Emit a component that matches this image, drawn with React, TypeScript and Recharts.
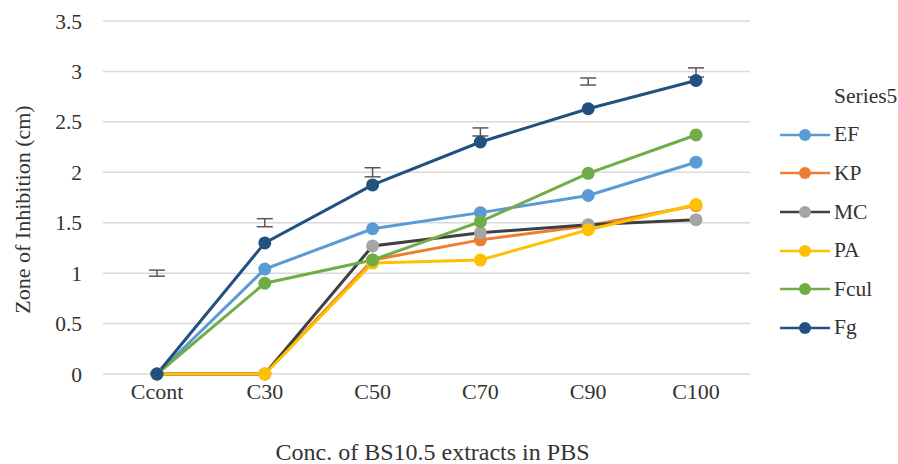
import React from "react";
import { LineChart, Line, XAxis, YAxis, CartesianGrid, ErrorBar } from "recharts";

const categories = ["Ccont", "C30", "C50", "C70", "C90", "C100"];
const ef = [0, 1.04, 1.44, 1.6, 1.77, 2.1];
const kp = [0, 0, 1.13, 1.33, 1.47, 1.67];
const mc = [0, 0, 1.27, 1.4, 1.48, 1.53];
const pa = [0, 0, 1.1, 1.13, 1.43, 1.68];
const fcul = [0, 0.9, 1.13, 1.51, 1.99, 2.37];
const fg = [0, 1.3, 1.875, 2.3, 2.63, 2.91];
// "Series5" only carries the error bars
const series5 = [1.0, 1.5, 2.0, 2.4, 2.9, 2.99];
const series5Err = [0.03, 0.04, 0.045, 0.04, 0.035, 0.045];
const yTicks = [0, 0.5, 1, 1.5, 2, 2.5, 3, 3.5];

const series = [
  { key: "EF", values: ef, line: "#5B9BD5", dot: "#5B9BD5" },
  { key: "KP", values: kp, line: "#ED7D31", dot: "#ED7D31" },
  { key: "MC", values: mc, line: "#404040", dot: "#A5A5A5" },
  { key: "PA", values: pa, line: "#FFC000", dot: "#FFC000" },
  { key: "Fcul", values: fcul, line: "#70AD47", dot: "#70AD47" },
  { key: "Fg", values: fg, line: "#21517F", dot: "#21517F" },
];

const data = categories.map((c, i) => {
  const row: Record<string, string | number> = { cat: c, s5: series5[i], s5err: series5Err[i] };
  series.forEach((s) => (row[s.key] = s.values[i]));
  return row;
});

const font = "'Liberation Serif', 'Times New Roman', serif";
const textColor = "#333333";

function YLabel({ viewBox }: any) {
  const cx = 22;
  const cy = viewBox.y + viewBox.height / 2 + 12;
  return (
    <text
      x={cx}
      y={cy}
      transform={`rotate(-90 ${cx} ${cy})`}
      textAnchor="middle"
      dominantBaseline="central"
      fill={textColor}
      fontSize={22}
      fontFamily={font}
    >
      Zone of Inhibition (cm)
    </text>
  );
}

function LegendBox() {
  return (
    <div
      style={{
        position: "absolute",
        left: 780,
        top: 77,
        width: 118,
        fontFamily: font,
        fontSize: 21.5,
        color: textColor,
      }}
    >
      <div style={{ height: 38.6, lineHeight: "38.6px", paddingLeft: 54 }}>Series5</div>
      {series.map((s) => (
        <div key={s.key} style={{ height: 38.6, display: "flex", alignItems: "center" }}>
          <svg width={52} height={16} style={{ marginRight: 2 }}>
            <line x1={0} y1={8} x2={50} y2={8} stroke={s.line} strokeWidth={2.5} />
            <circle cx={25} cy={8} r={6} fill={s.dot} />
          </svg>
          <span>{s.key}</span>
        </div>
      ))}
    </div>
  );
}

export default function App() {
  return (
    <div style={{ position: "absolute", left: 0, top: 0, width: 898, height: 464, background: "#fff" }}>
      <LineChart width={898} height={464} data={data} margin={{ top: 21, right: 148, left: 0, bottom: 0 }}>
        <CartesianGrid vertical={false} stroke="#D9D9D9" strokeWidth={1.5} />
        <XAxis
          dataKey="cat"
          axisLine={false}
          tickLine={false}
          tickSize={0}
          tickMargin={9}
          height={90}
          padding={{ left: 54, right: 54 }}
          interval={0}
          tick={{ fill: textColor, fontSize: 22, fontFamily: font }}
          label={{
            value: "Conc. of BS10.5 extracts in PBS",
            position: "insideBottom",
            offset: 4,
            dx: 6,
            fill: textColor,
            fontSize: 24,
            fontFamily: font,
          }}
        />
        <YAxis
          width={103}
          domain={[0, 3.5]}
          ticks={yTicks}
          axisLine={false}
          tickLine={false}
          tickSize={0}
          tickMargin={21}
          tick={{ fill: textColor, fontSize: 21.5, fontFamily: font }}
          label={<YLabel />}
        />
        <Line
          dataKey="s5"
          stroke="none"
          dot={false}
          activeDot={false}
          legendType="none"
          isAnimationActive={false}
        >
          <ErrorBar dataKey="s5err" width={8} stroke="#595959" strokeWidth={1.5} direction="y" />
        </Line>
        {series.map((s) => (
          <Line
            key={s.key}
            dataKey={s.key}
            type="linear"
            stroke={s.line}
            strokeWidth={3}
            dot={{ r: 6.5, fill: s.dot, stroke: "none" }}
            activeDot={false}
            isAnimationActive={false}
          />
        ))}
      </LineChart>
      <LegendBox />
    </div>
  );
}
